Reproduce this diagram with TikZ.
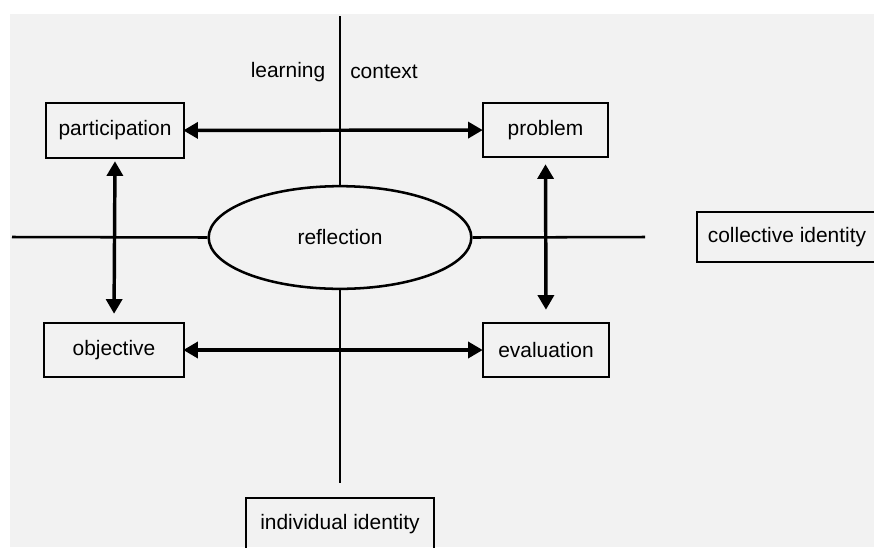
\documentclass[tikz,border=0pt]{standalone}
\usepackage{fontspec}
\setmainfont{Liberation Sans}
\usetikzlibrary{arrows.meta,shapes.geometric}
\definecolor{bggray}{RGB}{242,242,242}

\begin{document}
\begin{tikzpicture}[x=0.75pt, y=-0.75pt,
    every node/.style={font=\fontsize{15.7}{18}\selectfont, inner sep=0pt},
    box/.style={draw, line width=1.9pt},
    axis/.style={line width=1.9pt},
    dbl/.style={line width=2.6pt, {Triangle[length=11pt,width=12pt]}-{Triangle[length=11pt,width=12pt]}}]
    \useasboundingbox (0,0) rectangle (874,547);
    \clip (0,0) rectangle (874,547);
    \fill[bggray] (10,14) rectangle (874,547);

    % the four phases
    \node[box, minimum width=103.5pt, minimum height=41.25pt] (part) at (115,130.5) {participation};
    \node[box, minimum width=93.75pt, minimum height=40.5pt] (prob) at (545.5,130) {problem};
    \node[box, minimum width=105pt, minimum height=40.5pt] (obj) at (114,350) {objective};
    \node[box, minimum width=94.5pt, minimum height=40.5pt] (eval) at (546,350) {evaluation};

    % centre and identities
    \node[draw, ellipse, line width=1.9pt, minimum width=197pt, minimum height=77pt] (refl) at (340,237.5) {reflection};
    \node[box, minimum width=135pt, minimum height=37.5pt] (coll) at (787,237) {collective identity};
    \node[box, minimum width=141pt, minimum height=39pt] (indiv) at (340,524) {individual identity};
    \node (learn) at (288,72) {learning};
    \node (ctx) at (384,72) {context};

    % axes
    \coordinate (top) at (340,16);
    \coordinate (bot) at (340,483);
    \coordinate (lft) at (12,237);
    \coordinate (rgt) at (645,237);
    \draw[axis] (top) -- (refl.north);
    \draw[axis] (refl.south) -- (bot);
    \draw[axis] (lft) -- (refl.west);
    \draw[axis] (refl.east) -- (rgt);

    % arrows between phases
    \draw[dbl, shorten <=-1.5pt, shorten >=-0.75pt] (part) -- (prob);
    \draw[dbl, shorten <=-1.5pt, shorten >=-0.75pt] (obj) -- (eval);
    \draw[dbl, shorten <=1.5pt, shorten >=6pt] (part.south) -- (obj.north);
    \draw[dbl, shorten <=4.5pt, shorten >=9pt] (prob.south) -- (eval.north);
\end{tikzpicture}
\end{document}
